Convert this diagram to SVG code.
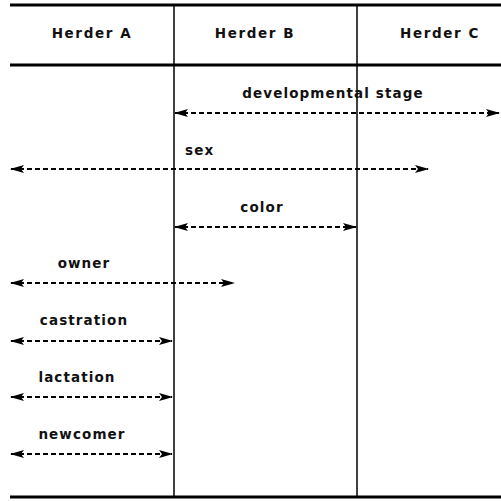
<svg xmlns="http://www.w3.org/2000/svg" width="501" height="501" viewBox="0 0 501 501">
<style>
text{font-family:"DejaVu Sans","Liberation Sans",sans-serif;font-size:13.5px;font-weight:bold;fill:#111;letter-spacing:1.1px}
.hd{font-weight:600;letter-spacing:1.6px}
.rule{stroke:#000;stroke-width:3}
.col{stroke:#000;stroke-width:1.5}
.arr{stroke:#000;stroke-width:2;stroke-dasharray:5 3;fill:none;marker-start:url(#a);marker-end:url(#a)}
</style>
<defs>
<marker id="a" viewBox="0 0 14 9" refX="13" refY="4.5" markerWidth="14" markerHeight="9" markerUnits="userSpaceOnUse" orient="auto-start-reverse">
<path d="M0,0.5 L14,4.5 L0,8.5 L3,4.5 z" fill="#000"/>
</marker>
</defs>
<rect width="501" height="501" fill="#fff"/>
<g id="frame">
<line class="rule" x1="10" y1="5" x2="501" y2="5"/>
<line class="rule" x1="10" y1="65" x2="501" y2="65"/>
<line class="rule" x1="10" y1="497" x2="501" y2="497"/>
<line class="col" x1="174" y1="5" x2="174" y2="497"/>
<line class="col" x1="357" y1="5" x2="357" y2="497"/>
</g>
<g id="headers">
<text class="hd" x="92" y="38" text-anchor="middle">Herder A</text>
<text class="hd" x="255" y="38" text-anchor="middle">Herder B</text>
<text class="hd" x="440" y="38" text-anchor="middle">Herder C</text>
</g>
<g id="connectors">
<line class="arr" x1="175" y1="113" x2="499" y2="113"/>
<line class="arr" x1="11" y1="169" x2="428" y2="169"/>
<line class="arr" x1="175" y1="227" x2="356" y2="227"/>
<line class="arr" x1="11" y1="283" x2="234" y2="283"/>
<line class="arr" x1="11" y1="341" x2="172" y2="341"/>
<line class="arr" x1="11" y1="397" x2="172" y2="397"/>
<line class="arr" x1="11" y1="454" x2="172" y2="454"/>
</g>
<g id="labels">
<text x="333" y="98" text-anchor="middle">developmental stage</text>
<text x="185" y="155">sex</text>
<text x="262" y="212" text-anchor="middle">color</text>
<text x="84" y="268" text-anchor="middle">owner</text>
<text x="84" y="325" text-anchor="middle">castration</text>
<text x="77" y="382" text-anchor="middle">lactation</text>
<text x="82" y="439" text-anchor="middle">newcomer</text>
</g>
</svg>
